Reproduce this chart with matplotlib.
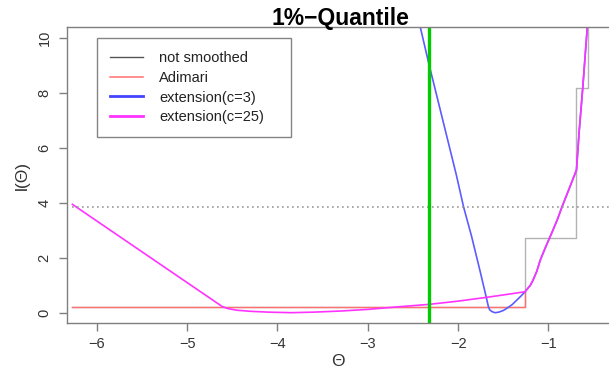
"""Profile log-likelihood ratio for the 1% quantile."""

import matplotlib
matplotlib.use("Agg")
import matplotlib.pyplot as plt

plt.rcParams['font.family'] = ['Liberation Sans', 'DejaVu Sans']

# not smoothed (step function)
theta_ns = [-6.27, -1.26, -1.26, -0.69, -0.69, -0.56, -0.56]
l_ns = [0.22, 0.22, 2.70, 2.70, 8.16, 8.16, 11.0]

# Adimari
theta_adi = [-6.27, -1.26, -1.26]
l_adi = [0.22, 0.22, 0.76]

# extension c=3
theta_c3 = [-2.44, -2.42, -2.33, -2.02, -1.94, -1.85, -1.76, -1.69, -1.675,
            -1.665, -1.65, -1.62, -1.59, -1.55, -1.50, -1.46, -1.40, -1.35,
            -1.30, -1.26]
l_c3 = [10.7, 10.4, 9.13, 5.01, 3.85, 2.76, 1.55, 0.58, 0.36,
        0.22, 0.10, 0.03, 0.00, 0.02, 0.08, 0.16, 0.30, 0.46,
        0.62, 0.76]

# extension c=25
theta_c25 = [-6.27, -4.61, -4.55, -4.45, -4.30, -4.10, -3.85, -3.60, -3.30,
             -3.00, -2.64, -2.33, -2.00, -1.68, -1.26, -1.20, -1.17, -1.13,
             -1.09, -1.03, -0.965, -0.90, -0.85, -0.76, -0.69, -0.66, -0.62,
             -0.57, -0.565]
l_c25 = [3.94, 0.22, 0.15, 0.09, 0.05, 0.02, 0.00, 0.02, 0.06,
         0.12, 0.22, 0.30, 0.42, 0.56, 0.76, 1.00, 1.19, 1.50,
         1.92, 2.40, 2.89, 3.40, 3.85, 4.60, 5.19, 6.60, 8.20,
         10.4, 10.9]

chi2_crit = 3.84
true_q = -2.326

fig = plt.figure(figsize=(6.09, 3.68), dpi=100)
ax = fig.add_axes([67 / 609, 1 - 323.3 / 368, (609 - 67) / 609, (323.3 - 27) / 368])

i_join = theta_c25.index(-1.26)
ax.plot(theta_ns, l_ns, color='#b3b3b3', lw=1.0)
ax.plot(theta_adi, l_adi, color='#ff7070', lw=1.0)
ax.plot(theta_c3 + theta_c25[i_join + 1:], l_c3 + l_c25[i_join + 1:],
        color='#5c5cff', lw=1.2)
ax.plot(theta_c25, l_c25, color='#ff33ff', lw=1.2)
ax.plot([-6.27, 0], [chi2_crit, chi2_crit], color='#999999', lw=1.2, ls=(0, (1, 2)))
ax.axvline(true_q, color='#00cc00', lw=2.4)

ax.set_xlim(-6.33, -0.33)
ax.set_ylim(-0.386, 10.39)
ax.set_xticks([-6, -5, -4, -3, -2, -1])
ax.set_xticklabels(['\u22126', '\u22125', '\u22124', '\u22123', '\u22122', '\u22121'])
ax.set_yticks([0, 2, 4, 6, 8, 10])
for lab in ax.get_yticklabels():
    lab.set_rotation(90)
    lab.set_va('center')

for side in ['left', 'bottom', 'top']:
    ax.spines[side].set_color('#7f7f7f')
    ax.spines[side].set_linewidth(1.0)
ax.spines['right'].set_visible(False)
ax.tick_params(direction='out', length=6, width=1.0, colors='#7f7f7f',
               labelcolor='#333333', labelsize=10.5)
ax.tick_params(axis='x', pad=4)
ax.tick_params(axis='y', pad=5)

ax.set_xlabel('\u0398', fontsize=12.5, color='#333333', labelpad=2)
ax.set_ylabel('l(\u0398)', fontsize=12.5, color='#333333', labelpad=6)
fig.text(340 / 609, 1 - 25 / 368, '1%\u2212Quantile', ha='center', va='baseline',
         fontsize=16.5, fontweight='bold')

handles = [
    plt.Line2D([], [], color='#555555', lw=1.0),
    plt.Line2D([], [], color='#ff7070', lw=1.1),
    plt.Line2D([], [], color='#4444ff', lw=2.0),
    plt.Line2D([], [], color='#ff33ff', lw=2.0),
]
labels = ['not smoothed', 'Adimari', 'extension(c=3)', 'extension(c=25)']
leg = fig.legend(handles, labels, loc='upper left',
                 bbox_to_anchor=(96.7 / 609, 1 - 137.7 / 368, (291 - 96.7) / 609,
                                 (137.7 - 38.3) / 368),
                 mode='expand', borderaxespad=0, fontsize=10.5, fancybox=False,
                 frameon=True, handlelength=2.3, handletextpad=1.1,
                 labelspacing=0.38, borderpad=0.9)
leg.get_frame().set_edgecolor('#666666')
leg.get_frame().set_linewidth(1.0)
for t in leg.get_texts():
    t.set_color('#222222')

fig.savefig('out.png', dpi=100)
